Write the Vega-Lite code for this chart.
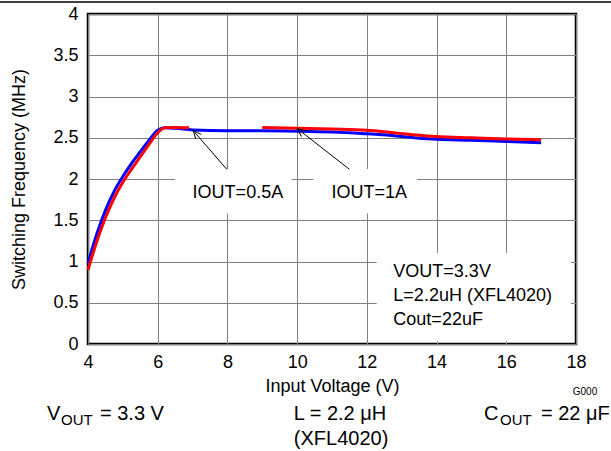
{
  "$schema": "https://vega.github.io/schema/vega-lite/v6.json",
  "width": 488,
  "height": 330,
  "autosize": {"type": "none"},
  "padding": {"left": 88, "top": 14, "right": 35, "bottom": 107},
  "background": "white",
  "config": {
    "font": "Liberation Sans",
    "view": {"stroke": "black", "strokeWidth": 2.5},
    "axis": {
      "grid": true, "gridColor": "#808080", "gridWidth": 1, "gridOpacity": 1,
      "domain": false, "ticks": false, "tickSize": 0, "labelFlush": false,
      "labelFont": "Liberation Sans", "labelFontSize": 18, "labelColor": "black",
      "titleFont": "Liberation Sans", "titleFontSize": 18, "titleFontWeight": "normal", "titleColor": "black"
    }
  },
  "datasets": {
    "boxes": [
      {"x": 6.5, "x2": 9.84, "y": 1.584, "y2": 2.12},
      {"x": 10.47, "x2": 13.43, "y": 1.584, "y2": 2.12},
      {"x": 12.28, "x2": 17.85, "y": 0.03, "y2": 1.1}
    ],
    "blue": [
      {"x": 4.0, "y": 0.98}, {"x": 4.25, "y": 1.33}, {"x": 4.5, "y": 1.62}, {"x": 4.75, "y": 1.85},
      {"x": 5.0, "y": 2.03}, {"x": 5.25, "y": 2.19}, {"x": 5.5, "y": 2.33}, {"x": 5.75, "y": 2.47},
      {"x": 6.0, "y": 2.59}, {"x": 6.2, "y": 2.62}, {"x": 6.5, "y": 2.615}, {"x": 7.0, "y": 2.595},
      {"x": 8.0, "y": 2.585}, {"x": 9.0, "y": 2.585}, {"x": 10.0, "y": 2.58}, {"x": 11.0, "y": 2.57},
      {"x": 12.0, "y": 2.548}, {"x": 12.5, "y": 2.535}, {"x": 13.0, "y": 2.515}, {"x": 13.5, "y": 2.495},
      {"x": 14.0, "y": 2.482}, {"x": 15.0, "y": 2.47}, {"x": 16.0, "y": 2.455}, {"x": 17.0, "y": 2.44}
    ],
    "red": [
      {"x": 4.0, "y": 0.9, "s": "a"}, {"x": 4.25, "y": 1.24, "s": "a"}, {"x": 4.5, "y": 1.53, "s": "a"},
      {"x": 4.75, "y": 1.77, "s": "a"}, {"x": 5.0, "y": 1.96, "s": "a"}, {"x": 5.25, "y": 2.12, "s": "a"},
      {"x": 5.5, "y": 2.27, "s": "a"}, {"x": 5.75, "y": 2.42, "s": "a"}, {"x": 6.0, "y": 2.56, "s": "a"},
      {"x": 6.2, "y": 2.62, "s": "a"}, {"x": 6.5, "y": 2.625, "s": "a"}, {"x": 6.9, "y": 2.62, "s": "a"},
      {"x": 9.0, "y": 2.625, "s": "b"}, {"x": 10.0, "y": 2.615, "s": "b"}, {"x": 11.0, "y": 2.605, "s": "b"},
      {"x": 12.0, "y": 2.59, "s": "b"}, {"x": 12.5, "y": 2.572, "s": "b"}, {"x": 13.0, "y": 2.55, "s": "b"},
      {"x": 13.5, "y": 2.53, "s": "b"}, {"x": 14.0, "y": 2.515, "s": "b"}, {"x": 15.0, "y": 2.5, "s": "b"},
      {"x": 16.0, "y": 2.485, "s": "b"}, {"x": 17.0, "y": 2.475, "s": "b"}
    ],
    "topline": [{"x": 1.47, "x2": 19.01, "y": 4.1455}],
    "arrows": [
      {"x": 7.98, "y": 2.118, "x2": 7.02, "y2": 2.586},
      {"x": 11.5, "y": 2.118, "x2": 10.005, "y2": 2.61}
    ],
    "head1": [{"x": 7.02, "y": 2.586}],
    "head2": [{"x": 10.005, "y": 2.61}],
    "iout": [
      {"x": 8.3, "y": 1.834, "t": "IOUT=0.5A"},
      {"x": 12.07, "y": 1.834, "t": "IOUT=1A"}
    ],
    "cond": [
      {"x": 12.76, "y": 0.873, "t": "VOUT=3.3V"},
      {"x": 12.76, "y": 0.582, "t": "L=2.2uH (XFL4020)"},
      {"x": 12.76, "y": 0.291, "t": "Cout=22uF"}
    ],
    "capLeft": [
      {"x": 2.824, "y": -0.9212, "t": "V"},
      {"x": 4.344, "y": -0.9212, "t": "= 3.3 V"},
      {"x": 15.361, "y": -0.9212, "t": "C"},
      {"x": 16.994, "y": -0.9212, "t": "= 22 μF"}
    ],
    "capSub": [
      {"x": 3.226, "y": -0.9818, "t": "OUT"},
      {"x": 15.82, "y": -0.9818, "t": "OUT"}
    ],
    "capMid": [
      {"x": 11.23, "y": -0.9212, "t": "L = 2.2 μH"},
      {"x": 11.26, "y": -1.2242, "t": "(XFL4020)"}
    ],
    "gcode": [{"x": 18.258, "y": -0.5818, "t": "G000"}]
  },
  "layer": [
    {
      "data": {"name": "boxes"},
      "mark": {"type": "rect", "fill": "white", "strokeWidth": 0},
      "encoding": {
        "x": {"field": "x", "type": "quantitative", "scale": {"domain": [4, 18], "nice": false, "zero": false},
              "axis": {"values": [4, 6, 8, 10, 12, 14, 16, 18], "labelPadding": 9, "titlePadding": 6}, "title": "Input Voltage (V)"},
        "x2": {"field": "x2"},
        "y": {"field": "y", "type": "quantitative", "scale": {"domain": [0, 4], "nice": false, "zero": false},
              "axis": {"values": [0, 0.5, 1, 1.5, 2, 2.5, 3, 3.5, 4], "format": "~g", "labelPadding": 10, "titlePadding": 24}, "title": "Switching Frequency (MHz)"},
        "y2": {"field": "y2"}
      }
    },
    {
      "data": {"name": "blue"},
      "mark": {"type": "line", "color": "#0000FF", "strokeWidth": 3, "interpolate": "monotone"},
      "encoding": {
        "x": {"field": "x", "type": "quantitative", "title": "Input Voltage (V)"},
        "y": {"field": "y", "type": "quantitative", "title": "Switching Frequency (MHz)"}
      }
    },
    {
      "data": {"name": "red"},
      "mark": {"type": "line", "color": "#FF0000", "strokeWidth": 3, "interpolate": "monotone"},
      "encoding": {
        "x": {"field": "x", "type": "quantitative", "title": "Input Voltage (V)"},
        "y": {"field": "y", "type": "quantitative", "title": "Switching Frequency (MHz)"},
        "detail": {"field": "s"}
      }
    },
    {
      "data": {"name": "topline"},
      "mark": {"type": "rule", "color": "black", "strokeWidth": 1.5},
      "encoding": {
        "x": {"field": "x", "type": "quantitative", "title": "Input Voltage (V)"},
        "x2": {"field": "x2"},
        "y": {"field": "y", "type": "quantitative", "title": "Switching Frequency (MHz)"}
      }
    },
    {
      "data": {"name": "arrows"},
      "mark": {"type": "rule", "color": "black", "strokeWidth": 1},
      "encoding": {
        "x": {"field": "x", "type": "quantitative", "title": "Input Voltage (V)"},
        "x2": {"field": "x2"},
        "y": {"field": "y", "type": "quantitative", "title": "Switching Frequency (MHz)"},
        "y2": {"field": "y2"}
      }
    },
    {
      "data": {"name": "head1"},
      "mark": {"type": "point", "shape": "M-0.45,1L0,0L0.45,1", "filled": false, "stroke": "black", "strokeWidth": 1, "size": 256, "angle": 319, "opacity": 1},
      "encoding": {
        "x": {"field": "x", "type": "quantitative", "title": "Input Voltage (V)"},
        "y": {"field": "y", "type": "quantitative", "title": "Switching Frequency (MHz)"}
      }
    },
    {
      "data": {"name": "head2"},
      "mark": {"type": "point", "shape": "M-0.45,1L0,0L0.45,1", "filled": false, "stroke": "black", "strokeWidth": 1, "size": 256, "angle": 308, "opacity": 1},
      "encoding": {
        "x": {"field": "x", "type": "quantitative", "title": "Input Voltage (V)"},
        "y": {"field": "y", "type": "quantitative", "title": "Switching Frequency (MHz)"}
      }
    },
    {
      "data": {"name": "iout"},
      "mark": {"type": "text", "fontSize": 18, "align": "center", "baseline": "middle", "color": "black"},
      "encoding": {
        "x": {"field": "x", "type": "quantitative", "title": "Input Voltage (V)"},
        "y": {"field": "y", "type": "quantitative", "title": "Switching Frequency (MHz)"},
        "text": {"field": "t"}
      }
    },
    {
      "data": {"name": "cond"},
      "mark": {"type": "text", "fontSize": 18, "align": "left", "baseline": "middle", "color": "black"},
      "encoding": {
        "x": {"field": "x", "type": "quantitative", "title": "Input Voltage (V)"},
        "y": {"field": "y", "type": "quantitative", "title": "Switching Frequency (MHz)"},
        "text": {"field": "t"}
      }
    },
    {
      "data": {"name": "capLeft"},
      "mark": {"type": "text", "fontSize": 20, "align": "left", "baseline": "alphabetic", "color": "black"},
      "encoding": {
        "x": {"field": "x", "type": "quantitative", "title": "Input Voltage (V)"},
        "y": {"field": "y", "type": "quantitative", "title": "Switching Frequency (MHz)"},
        "text": {"field": "t"}
      }
    },
    {
      "data": {"name": "capSub"},
      "mark": {"type": "text", "fontSize": 15, "align": "left", "baseline": "alphabetic", "color": "black"},
      "encoding": {
        "x": {"field": "x", "type": "quantitative", "title": "Input Voltage (V)"},
        "y": {"field": "y", "type": "quantitative", "title": "Switching Frequency (MHz)"},
        "text": {"field": "t"}
      }
    },
    {
      "data": {"name": "capMid"},
      "mark": {"type": "text", "fontSize": 20, "align": "center", "baseline": "alphabetic", "color": "black"},
      "encoding": {
        "x": {"field": "x", "type": "quantitative", "title": "Input Voltage (V)"},
        "y": {"field": "y", "type": "quantitative", "title": "Switching Frequency (MHz)"},
        "text": {"field": "t"}
      }
    },
    {
      "data": {"name": "gcode"},
      "mark": {"type": "text", "fontSize": 10, "align": "center", "baseline": "middle", "color": "black"},
      "encoding": {
        "x": {"field": "x", "type": "quantitative", "title": "Input Voltage (V)"},
        "y": {"field": "y", "type": "quantitative", "title": "Switching Frequency (MHz)"},
        "text": {"field": "t"}
      }
    }
  ]
}
